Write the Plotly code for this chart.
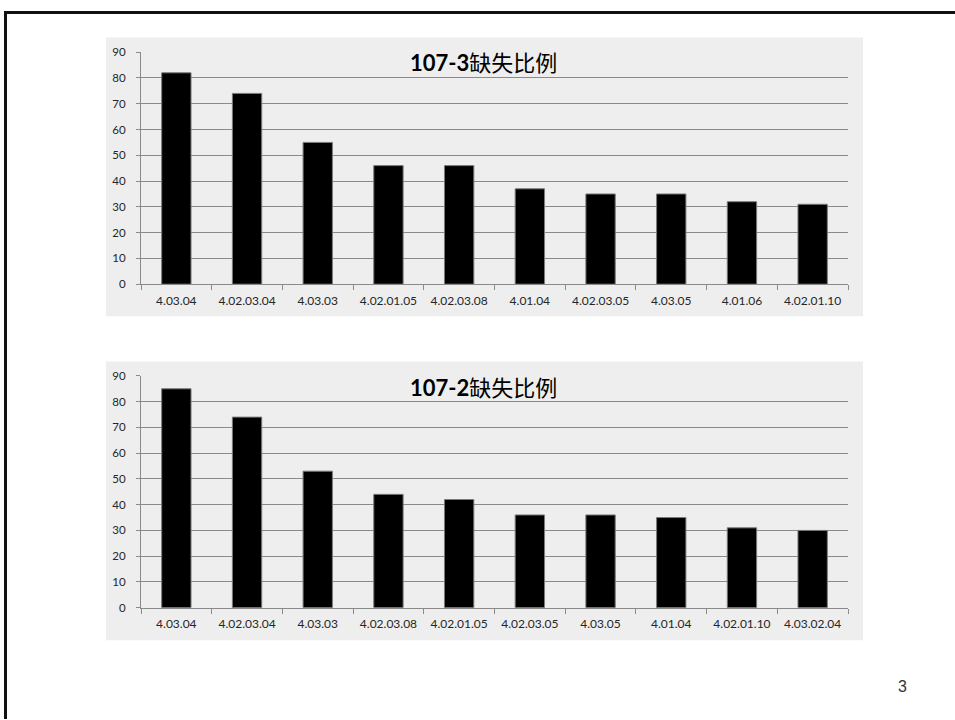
import plotly.graph_objects as go

W, H = 955, 720

cats_1 = ["4.03.04", "4.02.03.04", "4.03.03", "4.02.01.05", "4.02.03.08",
          "4.01.04", "4.02.03.05", "4.03.05", "4.01.06", "4.02.01.10"]
vals_1 = [82, 74, 55, 46, 46, 37, 35, 35, 32, 31]
title_1 = "<b>107-3</b>缺失比例"

cats_2 = ["4.03.04", "4.02.03.04", "4.03.03", "4.02.03.08", "4.02.01.05",
          "4.02.03.05", "4.03.05", "4.01.04", "4.02.01.10", "4.03.02.04"]
vals_2 = [85, 74, 53, 44, 42, 36, 36, 35, 31, 30]
title_2 = "<b>107-2</b>缺失比例"

y_ticks = list(range(0, 100, 10))
page_no = "3"

FONT = "Lato, 'Noto Sans CJK SC', sans-serif"
TXT = "#262626"
GRID = "#8a8a8a"


def px_x(p):
    return p / W


def px_y(p):
    return 1 - p / H


fig = go.Figure()

fig.add_trace(go.Bar(x=cats_1, y=vals_1, xaxis="x", yaxis="y",
                     marker=dict(color="black", line=dict(color="#7a7a7a", width=1)),
                     showlegend=False))
fig.add_trace(go.Bar(x=cats_2, y=vals_2, xaxis="x2", yaxis="y2",
                     marker=dict(color="black", line=dict(color="#7a7a7a", width=1)),
                     showlegend=False))

xdom = [px_x(141), px_x(848)]
y1dom = [px_y(282.3), px_y(46)]
y2dom = [px_y(611.7), px_y(375.7)]

xaxis_common = dict(
    type="category", showline=True, linecolor=GRID, linewidth=1,
    ticks="outside", ticklen=5, tickcolor=GRID, tickson="boundaries",
    showgrid=False, zeroline=False,
    tickfont=dict(family=FONT, size=12, color=TXT), ticklabelstandoff=5,
    range=[-0.5, 9.5], fixedrange=True,
)
yaxis_common = dict(
    range=[0, 90], tickvals=y_ticks, showline=True, linecolor=GRID, linewidth=1,
    ticks="outside", ticklen=4, tickcolor=GRID,
    showgrid=True, gridcolor=GRID, gridwidth=1, zeroline=False,
    tickfont=dict(family=FONT, size=11.5, color=TXT), ticklabelstandoff=8,
)

fig.update_layout(
    width=W, height=H,
    margin=dict(l=0, r=0, t=0, b=0),
    paper_bgcolor="white",
    plot_bgcolor="rgba(0,0,0,0)",
    bargap=0.585,
    xaxis=dict(domain=xdom, anchor="y", **xaxis_common),
    yaxis=dict(domain=y1dom, anchor="x", **yaxis_common),
    xaxis2=dict(domain=xdom, anchor="y2", **xaxis_common),
    yaxis2=dict(domain=y2dom, anchor="x2", **yaxis_common),
    shapes=[
        dict(type="rect", xref="paper", yref="paper", layer="below",
             x0=px_x(106), x1=px_x(863), y0=px_y(315), y1=px_y(31),
             fillcolor="#eeeeee", line=dict(width=0)),
        dict(type="rect", xref="paper", yref="paper", layer="below",
             x0=px_x(106), x1=px_x(863), y0=px_y(645), y1=px_y(361),
             fillcolor="#eeeeee", line=dict(width=0)),
        dict(type="line", xref="paper", yref="paper",
             x0=px_x(4), x1=px_x(960), y0=px_y(5.5), y1=px_y(5.5),
             line=dict(color="#111111", width=3)),
        dict(type="line", xref="paper", yref="paper",
             x0=px_x(5.5), x1=px_x(5.5), y0=px_y(4), y1=px_y(725),
             line=dict(color="#111111", width=3)),
    ],
    annotations=[
        dict(text=title_1, xref="paper", yref="paper", x=px_x(483), y=px_y(57),
             xanchor="center", yanchor="middle", showarrow=False,
             font=dict(family=FONT, size=22, color="black")),
        dict(text=title_2, xref="paper", yref="paper", x=px_x(483), y=px_y(387),
             xanchor="center", yanchor="middle", showarrow=False,
             font=dict(family=FONT, size=22, color="black")),
        dict(text=page_no, xref="paper", yref="paper", x=px_x(902), y=px_y(692),
             xanchor="center", yanchor="middle", showarrow=False,
             font=dict(family="Liberation Sans, Arial, sans-serif", size=16, color="#333333")),
    ],
)

fig.write_html(
    "out.html",
    post_script="document.body.style.margin='0';document.body.style.overflow='hidden';",
)
